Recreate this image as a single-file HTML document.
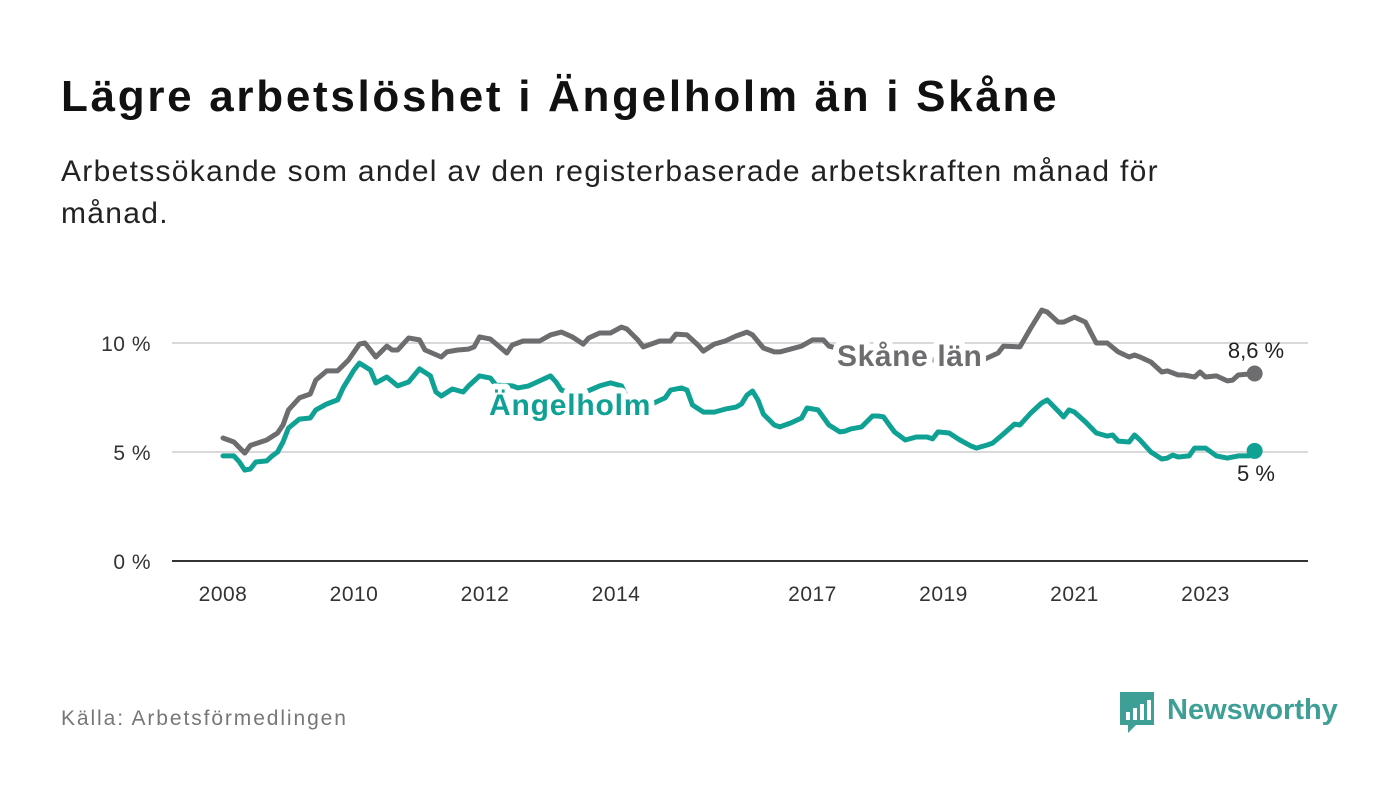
<!DOCTYPE html>
<html><head><meta charset="utf-8">
<style>
body{margin:0;width:1400px;height:794px;background:#fff;font-family:"Liberation Sans",sans-serif;overflow:hidden;position:relative}
h1{position:absolute;left:61px;top:72px;margin:0;font-size:44px;letter-spacing:2.7px;font-weight:bold;color:#111;white-space:nowrap}
.sub{position:absolute;left:61px;top:151px;width:1200px;font-size:30px;letter-spacing:1.3px;line-height:42px;color:#222}
.src{position:absolute;left:61px;top:707px;font-size:21px;letter-spacing:1.9px;color:#777}
svg{position:absolute;left:0;top:0}
</style></head><body>
<h1>Lägre arbetslöshet i Ängelholm än i Skåne</h1>
<div class="sub">Arbetssökande som andel av den registerbaserade arbetskraften månad för månad.</div>
<div class="src">Källa: Arbetsförmedlingen</div>
<svg id="chart" width="1400" height="794"></svg>
<script>
const skaneMonths=[0,2,4,5,8,10,11,12,14,16,17,19,21,23,25,26,27,28,30,31,32,34,36,37,40,41,43,45,46,47,49,52,53,55,58,60,62,64,66,67,69,71,73,74,76,77,79,80,82,83,85,87,88,90,92,94,96,97,99,101,102,104,106,108,110,111,115,120,126,131,136,139,140,142,143,146,148,150,151,153,154,156,158,160,162,164,166,167,168,170,172,173,175,176,178,179,180,182,184,185,186,189];
const skaneValues=[5.64,5.46,4.95,5.3,5.55,5.87,6.24,6.93,7.48,7.66,8.3,8.72,8.72,9.22,9.95,10.0,9.68,9.36,9.86,9.68,9.68,10.23,10.14,9.68,9.36,9.59,9.68,9.72,9.82,10.28,10.18,9.54,9.91,10.09,10.09,10.37,10.5,10.28,9.95,10.23,10.46,10.46,10.73,10.64,10.14,9.82,10.0,10.09,10.09,10.41,10.37,9.91,9.63,9.95,10.09,10.32,10.5,10.37,9.77,9.59,9.59,9.72,9.86,10.14,10.14,9.86,9.6,9.45,9.3,9.2,9.1,9.2,9.31,9.54,9.86,9.82,10.69,11.51,11.42,10.96,10.96,11.19,10.96,10.0,10.0,9.59,9.36,9.45,9.36,9.13,8.67,8.72,8.53,8.53,8.44,8.67,8.44,8.49,8.26,8.3,8.53,8.6];
const angMonths=[0,2,3,4,5,6,8,9,10,11,12,14,16,17,19,21,22,24,25,27,28,30,32,34,36,38,39,40,42,44,45,46,47,49,50,53,54,56,58,60,61,62,65,69,71,73,74,78,79,81,82,84,85,86,88,90,92,94,95,96,97,98,99,101,102,104,106,107,109,111,113,114,115,117,119,120,121,123,125,127,129,130,131,133,135,137,138,140,141,143,145,146,148,150,151,153,154,155,156,158,160,162,163,164,166,167,168,170,172,173,174,175,177,178,180,181,182,184,186,188,189];
const angValues=[4.82,4.82,4.54,4.17,4.22,4.54,4.59,4.82,5.0,5.46,6.1,6.51,6.56,6.93,7.2,7.39,7.94,8.76,9.08,8.76,8.17,8.44,8.03,8.21,8.81,8.49,7.75,7.57,7.89,7.75,8.03,8.26,8.49,8.39,8.07,8.03,7.94,8.03,8.26,8.49,8.21,7.84,7.6,8.03,8.17,8.03,7.48,7.11,7.25,7.48,7.84,7.94,7.84,7.16,6.83,6.83,6.97,7.06,7.2,7.61,7.8,7.39,6.74,6.24,6.15,6.33,6.56,7.02,6.93,6.24,5.92,5.96,6.06,6.15,6.65,6.65,6.61,5.92,5.55,5.69,5.69,5.6,5.92,5.87,5.55,5.28,5.18,5.32,5.41,5.83,6.28,6.24,6.79,7.25,7.39,6.88,6.61,6.93,6.83,6.38,5.87,5.73,5.78,5.5,5.46,5.78,5.55,5.0,4.68,4.72,4.86,4.77,4.82,5.18,5.18,5.0,4.82,4.72,4.82,4.82,5.05];
const xTicks=[2008,2010,2012,2014,2017,2019,2021,2023];
const yTicks=[0,5,10];
const yTickLabels=["0 %","5 %","10 %"];
const lastLabels=["8,6 %","5 %"];

const NS="http://www.w3.org/2000/svg";
const svg=document.getElementById('chart');
const X=m=>223+m*65.5/12;
const XY=y=>223+(y-2008)*65.5;
const Y=v=>561-v*21.8;
function el(t,a,txt){const e=document.createElementNS(NS,t);for(const k in a)e.setAttribute(k,a[k]);if(txt!=null)e.textContent=txt;svg.appendChild(e);return e;}
yTicks.forEach((v,i)=>{
  if(v>0){const g=el('line',{x1:172,x2:1308,y1:Y(v),y2:Y(v),stroke:'#d9d9d9','stroke-width':2});
  
  }
  const t=el('text',{x:151,y:Y(v)+8,'text-anchor':'end','font-size':21,'letter-spacing':0.5,fill:'#333'},yTickLabels[i]);
  
  
});
const ax=el('line',{x1:172,x2:1308,y1:561,y2:561,stroke:'#333','stroke-width':2});


xTicks.forEach(y=>{
  const t=el('text',{x:XY(y),y:601,'text-anchor':'middle','font-size':21,'letter-spacing':0.5,fill:'#333'},String(y));
  
  
});
function line(ms,vs,color,name){
  const d=ms.map((m,i)=>(i?'L':'M')+X(m).toFixed(1)+','+Y(vs[i]).toFixed(1)).join('');
  const p=el('path',{d:d,fill:'none',stroke:color,'stroke-width':5,'stroke-linejoin':'round','stroke-linecap':'round'});
  
  
  const n=ms.length-1;
  const c=el('circle',{cx:X(ms[n]),cy:Y(vs[n]),r:8,fill:color});
  
  
}
line(skaneMonths,skaneValues,'#6d6d70','skane');
line(angMonths,angValues,'#10a195','angelholm');
const l1=el('text',{x:837,y:366,'font-size':30,'letter-spacing':0.6,'font-weight':'bold',fill:'#6d6d70',stroke:'#fff','stroke-width':12,'paint-order':'stroke','stroke-linejoin':'round'},'Skåne län');


const l2=el('text',{x:489,y:415,'font-size':30,'letter-spacing':0.8,'font-weight':'bold',fill:'#10a195',stroke:'#fff','stroke-width':12,'paint-order':'stroke','stroke-linejoin':'round'},'Ängelholm');


const e1=el('text',{x:1256,y:358,'text-anchor':'middle','font-size':22,fill:'#222'},lastLabels[0]);


const e2=el('text',{x:1256,y:481,'text-anchor':'middle','font-size':22,fill:'#222'},lastLabels[1]);


// logo
const lg=el('g',{});


const r=document.createElementNS(NS,'path');r.setAttribute('d','M1120,692h34v33h-18l-8,8v-8h-8z');r.setAttribute('fill','#3d9f95');lg.appendChild(r);
[[1126,712,8],[1133,708,12],[1140,704,16],[1147,700,20]].forEach(b=>{const q=document.createElementNS(NS,'rect');q.setAttribute('x',b[0]);q.setAttribute('y',b[1]);q.setAttribute('width',4);q.setAttribute('height',b[2]);q.setAttribute('fill','#fff');lg.appendChild(q);});
const lt=document.createElementNS(NS,'text');lt.setAttribute('x',1167);lt.setAttribute('y',719);lt.setAttribute('font-size',29);lt.setAttribute('font-weight','bold');lt.setAttribute('fill','#3d9f95');lt.textContent='Newsworthy';lg.appendChild(lt);
</script>
</body></html>
